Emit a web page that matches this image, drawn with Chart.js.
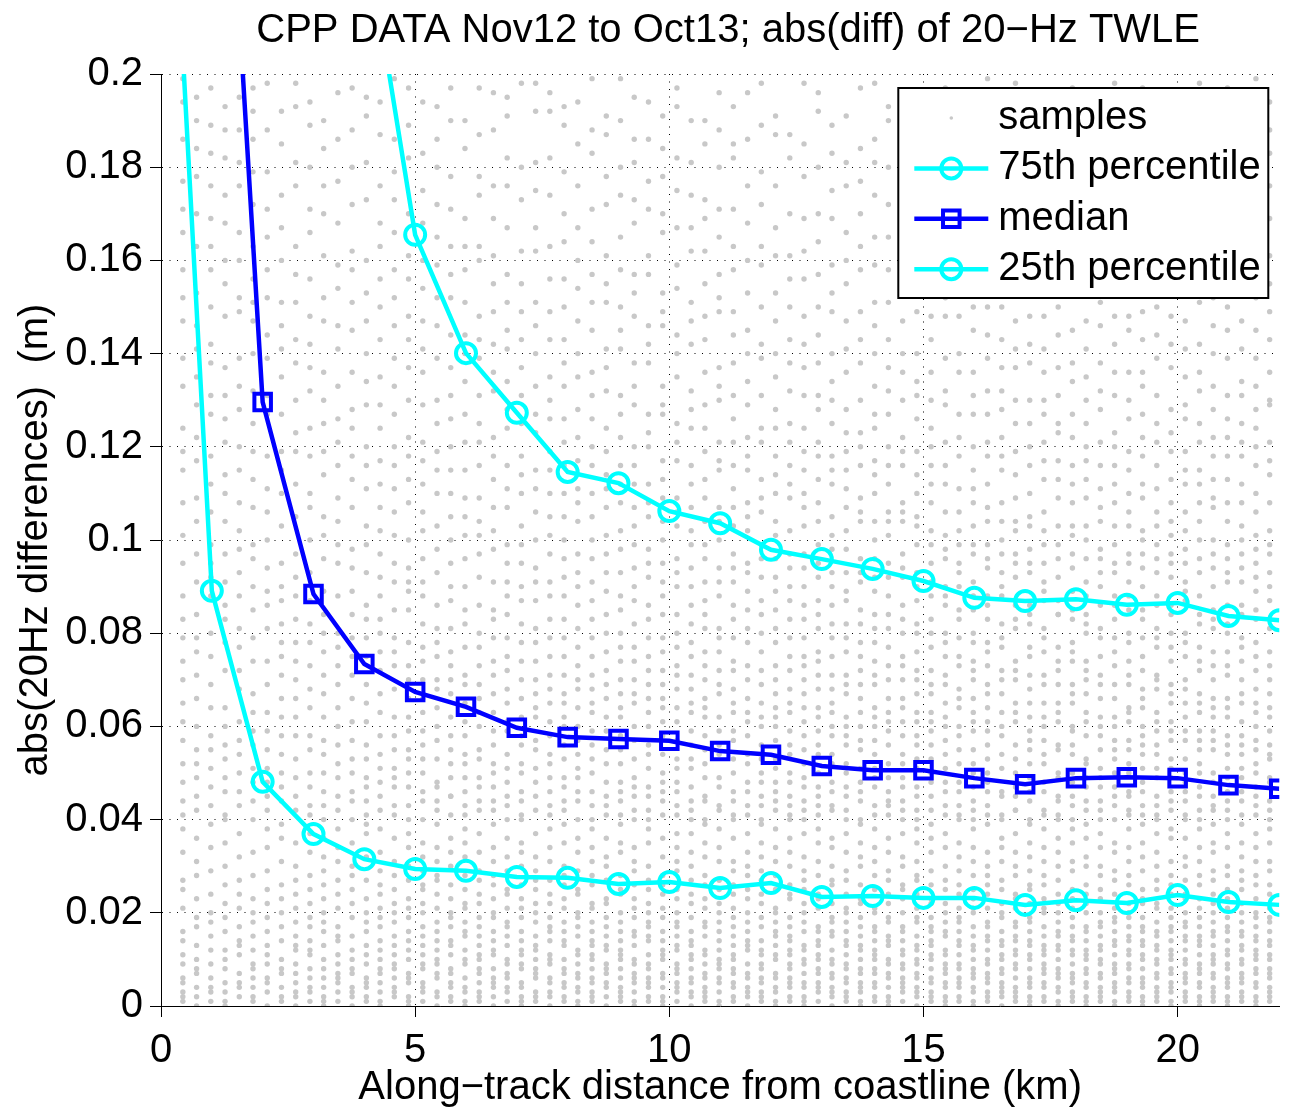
<!DOCTYPE html>
<html>
<head>
<meta charset="utf-8">
<title>CPP DATA abs(diff) of 20-Hz TWLE</title>
<script src="https://cdn.jsdelivr.net/npm/chart.js@4.4.1/dist/chart.umd.min.js"></script>
<style>
  html, body { margin: 0; padding: 0; background: #fff; }
  canvas { display: block; }
</style>
</head>
<body>
<canvas id="twleChart" width="1295" height="1117"></canvas>
<script>
const chartTitle = "CPP DATA Nov12 to Oct13; abs(diff) of 20\u2212Hz TWLE";
const xTitle = "Along\u2212track distance from coastline (km)";
const yTitle = "abs(20Hz differences)  (m)";

// distance bins (km) of the percentile curves
const distKm = [0, 1, 2, 3, 4, 5, 6, 7, 8, 9, 10, 11, 12, 13, 14, 15, 16, 17, 18, 19, 20, 21, 22];
const p75 = [1.0, 0.7, 0.45, 0.32, 0.233, 0.1655, 0.1401, 0.1273, 0.1146, 0.1122, 0.1062, 0.1036, 0.0979, 0.0959, 0.0938, 0.0912, 0.0876, 0.0869, 0.0873, 0.0861, 0.0865, 0.0837, 0.0828];
const median = [0.6, 0.31, 0.1296, 0.0884, 0.0734, 0.0674, 0.0642, 0.0597, 0.0577, 0.0573, 0.0569, 0.0547, 0.0539, 0.0515, 0.0506, 0.0506, 0.0489, 0.0476, 0.0489, 0.0491, 0.0489, 0.0474, 0.0466];
const p25 = [0.291, 0.0891, 0.0481, 0.0369, 0.0315, 0.0294, 0.0290, 0.0277, 0.0275, 0.0262, 0.0266, 0.0253, 0.0264, 0.0234, 0.0236, 0.0232, 0.0232, 0.0217, 0.0227, 0.0221, 0.0238, 0.0223, 0.0217];

// along-track positions of the 20 Hz sample columns (km)
const sampleCols = [0.43, 0.70, 0.98, 1.26, 1.54, 1.81, 2.09, 2.37, 2.65, 2.93, 3.20, 3.48, 3.76, 4.04, 4.31, 4.59, 4.87, 5.15, 5.43, 5.70,
  5.98, 6.26, 6.54, 6.81, 7.09, 7.37, 7.65, 7.93, 8.20, 8.48, 8.76, 9.04, 9.31, 9.59, 9.87, 10.15, 10.43, 10.70, 10.98, 11.26,
  11.54, 11.81, 12.09, 12.37, 12.65, 12.93, 13.20, 13.48, 13.76, 14.04, 14.31, 14.59, 14.87, 15.15, 15.43, 15.70, 15.98, 16.26, 16.54, 16.81,
  17.09, 17.37, 17.65, 17.93, 18.20, 18.48, 18.76, 19.04, 19.31, 19.59, 19.87, 20.15, 20.43, 20.70, 20.98, 21.26, 21.54, 21.81];

// sample differences (mm), one list per column
const sampleMm = [
  [1,2,3,5,6,9,11,14,16,21,25,27,33,38,44,52,61,70,83,95,108,124,139,152,171,186,194],
  [0,2,4,7,8,10,13,17,19,23,28,31,36,42,49,55,66,79,91,104,117,129,146,163,178,190],
  [1,3,4,6,9,12,15,18,20,24,29,34,39,47,58,64,75,88,99,112,131,142,158,169,183,197],
  [0,1,3,5,8,10,12,16,19,22,26,30,35,41,46,53,60,72,86,97,110,121,137,155,174,188],
  [2,4,5,7,11,13,14,17,21,24,27,32,37,43,50,57,68,77,93,102,115,133,149,160,181,195],
  [1,2,4,6,8,9,12,15,18,20,23,28,33,40,48,56,63,74,85,96,107,125,140,156,172,192],
  [0,3,5,6,9,11,13,16,19,22,25,29,34,38,45,51,59,69,81,94,111,127,144,165,179,198],
  [1,2,4,7,8,10,14,17,20,23,26,31,36,39,44,54,62,71,82,90,103,119,135,151,167,185],
  [0,2,3,5,7,9,12,13,15,18,21,24,27,30,35,42,49,58,66,78,92,105,123,138,157,176,193],
  [1,3,4,6,8,11,12,14,17,19,22,25,28,33,37,41,47,55,64,73,87,100,118,132,148,166,189],
  [0,1,2,4,6,8,10,13,16,18,20,23,26,29,32,36,43,50,57,67,76,89,101,114,130,147,170,184],
  [1,3,5,6,7,9,11,14,15,17,21,24,27,31,34,38,45,52,60,69,80,95,109,126,141,159,177,196],
  [0,2,3,4,7,8,10,12,15,19,22,25,28,30,35,40,46,53,61,71,84,98,113,128,145,162,180],
  [1,2,4,5,6,9,11,13,16,18,20,23,27,32,37,39,44,49,56,65,75,86,99,116,134,153,173,191],
  [0,1,3,5,7,8,10,12,14,17,19,21,24,26,29,33,38,42,48,54,63,72,83,97,112,129,150,168,187],
  [2,3,4,6,8,9,11,13,15,18,20,22,25,28,31,36,41,47,51,58,68,79,91,106,120,139,158,179,199],
  [0,1,2,5,6,7,10,12,14,16,19,21,23,27,30,34,37,43,50,55,62,73,85,94,108,122,143,161,182],
  [1,3,4,5,8,9,11,13,15,17,20,22,25,26,29,32,35,40,46,53,59,66,77,88,102,117,136,154,175,194],
  [0,2,3,6,7,9,10,12,14,16,18,21,24,27,28,31,34,39,44,48,57,64,70,81,93,110,125,146,165,186],
  [1,2,4,5,7,8,11,13,14,17,19,20,23,26,30,33,36,41,45,52,58,67,76,87,100,115,131,152,171,190],
  [0,1,3,4,6,9,10,12,15,16,18,21,22,25,28,32,35,38,43,49,54,61,71,82,96,109,127,144,163,184],
  [1,2,3,5,7,8,10,11,13,15,17,19,22,24,27,29,33,37,42,47,53,60,69,80,92,104,121,139,160,178,197],
  [0,2,4,5,6,8,11,12,14,16,19,20,23,26,28,31,34,39,44,50,56,63,74,85,98,113,132,149,169,188],
  [1,3,4,6,7,9,10,13,15,17,18,21,24,25,29,32,36,40,45,51,59,65,72,84,95,107,124,141,157,176,195],
  [0,1,2,4,5,8,9,11,12,14,16,19,21,23,26,30,33,35,41,46,52,58,66,78,90,103,118,137,155,173],
  [1,2,3,6,7,8,10,12,13,15,18,20,22,25,27,29,32,37,42,48,55,62,70,81,94,106,123,140,162,181,198],
  [0,2,3,5,6,9,10,11,14,16,17,19,22,24,27,31,34,38,43,49,54,61,68,79,91,105,119,135,156,174,192],
  [1,2,4,5,7,8,10,13,14,16,18,21,23,26,28,30,35,39,44,47,53,60,67,75,88,100,116,133,150,170,189],
  [0,1,3,4,6,7,9,11,12,15,17,19,20,24,25,29,33,36,40,46,51,57,64,73,86,97,111,128,147,167,185],
  [1,2,3,5,6,8,10,11,13,14,16,18,21,22,26,28,31,34,38,43,50,56,63,71,83,96,110,126,145,164,183],
  [0,2,4,5,7,8,9,12,13,15,17,19,22,23,27,30,32,36,41,45,52,59,66,76,89,101,114,132,151,172,191],
  [1,2,3,4,6,8,10,11,12,14,16,18,20,24,25,28,33,35,39,44,48,55,62,70,80,93,108,122,141,158,180,199],
  [0,1,3,5,6,7,9,10,13,15,16,19,21,23,26,29,31,34,40,45,49,57,65,74,87,99,112,129,148,168,186],
  [1,2,4,5,6,8,9,11,14,15,17,18,20,22,25,27,30,35,38,42,47,54,60,69,79,92,105,120,138,157,177,194],
  [0,1,2,4,6,7,10,11,12,14,16,19,21,24,26,28,32,36,41,46,50,58,64,72,84,95,109,127,146,166,184],
  [1,3,4,5,7,8,9,12,13,15,17,18,20,23,25,29,31,34,37,43,48,53,61,68,77,90,103,117,135,154,175,193],
  [0,2,3,5,6,8,10,11,13,14,16,19,22,24,27,30,33,37,40,44,51,56,63,71,82,94,107,124,142,162,181],
  [1,2,3,4,6,7,9,11,12,15,17,18,21,23,26,28,32,35,39,45,49,55,62,70,81,91,104,119,136,155,173,190],
  [0,1,3,5,6,8,9,10,12,14,16,18,20,22,25,27,31,34,38,42,47,54,59,67,76,88,100,115,133,152,171,188],
  [1,2,4,5,7,8,10,11,13,15,17,19,21,24,26,29,31,36,40,44,50,57,65,74,86,97,111,126,144,163,185],
  [0,2,3,4,6,7,9,12,13,14,16,18,20,23,25,28,30,33,37,41,46,52,58,66,78,89,102,118,134,153,176,196],
  [1,2,3,5,6,8,9,11,12,14,17,19,22,24,27,29,32,35,39,43,48,53,60,69,80,92,106,121,139,159,179],
  [0,1,3,4,6,7,10,11,13,15,16,18,20,21,25,28,31,34,38,42,46,51,57,64,73,85,96,110,128,147,167,187],
  [1,2,4,5,6,8,9,11,12,14,15,17,19,23,24,26,30,33,36,41,45,50,56,63,72,83,94,109,125,143,161,182],
  [0,1,2,4,5,7,9,10,12,13,16,18,20,22,25,27,29,32,37,40,44,49,55,61,70,79,90,103,119,137,156,178,198],
  [1,3,4,5,7,8,10,11,13,14,16,17,21,23,24,28,31,35,38,43,47,54,59,68,76,87,99,113,131,150,170,192],
  [0,2,3,4,6,7,9,10,12,15,16,18,19,22,26,27,30,34,36,42,46,52,58,65,75,86,98,112,130,149,169,189],
  [1,2,3,5,6,8,9,11,13,14,16,18,20,21,24,27,29,33,37,40,45,50,56,62,71,82,93,107,123,141,160,181],
  [0,1,3,4,5,7,8,10,12,13,15,17,19,22,23,26,30,32,35,39,44,48,55,60,69,78,91,104,120,138,158,177,197],
  [1,2,4,5,7,8,10,11,12,14,16,17,20,21,25,28,31,34,38,41,47,51,57,64,74,84,96,110,127,146,165,186],
  [0,1,2,4,6,7,9,10,13,14,15,18,19,22,24,27,29,33,36,43,46,52,59,66,77,88,101,116,132,151,172,193],
  [1,3,4,5,6,8,9,11,12,14,16,17,20,23,25,26,30,32,37,40,44,49,54,61,70,80,92,106,122,140,159,180],
  [0,2,3,4,6,7,9,10,12,13,15,18,19,21,24,27,28,31,35,38,42,47,53,58,67,76,87,99,114,131,149,168,188],
  [1,2,3,5,6,8,10,11,13,14,16,17,19,22,23,26,29,33,36,39,45,50,56,63,72,83,95,108,124,143,163,184],
  [0,1,2,4,5,7,8,9,11,12,15,16,18,20,22,25,27,30,34,37,41,46,51,57,65,75,86,98,112,129,148,170,191],
  [1,2,4,5,6,8,9,11,13,14,16,18,19,21,24,26,29,32,35,40,43,48,55,60,68,79,90,102,118,136,155,176,195],
  [0,1,3,4,6,7,8,10,12,13,15,17,20,21,23,25,28,31,34,38,42,47,52,59,66,74,85,97,111,127,145,166,187],
  [1,2,3,5,6,7,9,10,12,14,15,17,18,21,24,26,28,30,33,39,41,46,50,56,64,73,83,94,107,121,139,158,179,199],
  [0,2,3,4,5,7,8,10,11,13,14,16,19,20,22,25,27,31,34,36,40,45,51,58,67,77,88,100,115,132,150,171,190],
  [1,2,3,4,6,8,9,11,12,14,15,17,18,21,23,24,28,30,33,37,42,47,53,61,70,81,92,104,119,137,157,178],
  [0,1,2,4,5,6,8,10,11,13,14,16,18,19,22,25,26,29,32,35,39,44,49,55,62,71,82,93,105,120,138,156,175,194],
  [1,2,4,5,7,8,9,11,12,13,15,17,20,21,23,26,28,31,34,38,41,46,52,57,65,76,87,99,113,130,148,167,186],
  [0,1,3,4,6,7,8,10,12,13,15,16,18,20,22,24,27,30,33,36,40,45,50,56,63,72,84,96,109,125,144,164,183],
  [1,2,3,5,6,7,9,11,12,14,15,17,19,21,23,25,29,31,35,38,43,48,54,60,69,78,89,101,116,134,153,173,192],
  [0,1,2,4,5,7,8,10,11,12,14,16,17,20,22,24,26,30,32,36,39,44,49,53,61,70,80,91,103,117,135,154,174,196],
  [1,2,3,4,6,7,9,10,12,13,15,17,18,20,23,25,28,30,34,37,42,47,51,58,66,75,86,98,111,128,146,165,185],
  [0,1,3,4,5,7,8,9,11,13,14,16,18,19,21,24,27,29,33,35,40,45,50,55,62,73,83,95,108,123,142,161,181],
  [1,2,3,5,6,8,9,11,12,14,15,17,19,20,22,26,28,31,34,38,41,46,52,57,64,74,85,97,110,126,145,163,184],
  [0,1,2,4,5,6,8,10,11,13,14,16,17,19,22,23,25,29,32,35,39,43,48,54,60,68,79,90,102,118,136,155,176,197],
  [1,2,3,4,6,7,9,10,12,13,15,16,18,21,22,25,27,30,33,37,41,45,51,56,63,71,81,93,106,121,139,159,179],
  [0,1,3,4,5,7,8,10,11,12,14,16,17,19,21,24,26,28,31,36,38,44,49,53,61,69,80,92,104,119,137,157,178],
  [1,2,3,5,6,7,9,10,12,14,15,17,18,20,23,24,27,30,32,36,40,46,50,57,65,75,87,98,112,129,147,168,189],
  [0,1,2,4,5,7,8,9,11,13,14,15,17,19,21,23,26,28,31,34,38,42,47,52,59,67,77,88,100,115,132,151,171,192],
  [1,2,3,4,6,7,9,10,11,13,15,16,18,20,22,24,27,29,33,35,39,43,48,55,62,70,81,94,107,122,140,160,182],
  [0,1,2,4,5,6,8,9,11,12,14,16,17,19,21,23,25,28,30,34,37,42,46,51,58,66,76,86,99,113,131,150,169,190],
  [1,2,3,5,6,7,9,10,12,13,15,16,18,20,22,25,27,29,32,35,39,44,49,54,61,70,79,91,103,118,134,154,174,195],
  [0,1,2,4,5,7,8,10,11,12,14,15,17,19,20,23,26,28,31,34,37,41,47,52,60,68,78,89,101,116,133,152,173,193],
  [1,2,3,4,6,7,8,10,11,13,14,16,18,19,21,24,26,29,31,35,38,42,48,53,59,67,76,87,99,114,130,149,169,188]
];

// further samples (mm) of the same columns, upper part of the cloud
const sampleMmHi = [
  [41,48,57,65,74,79,88,101,115,119,133,147,158,166,177,199],
  [45,52,60,71,76,84,97,109,122,135,141,153,170,184,195],
  [43,51,55,69,80,92,95,106,118,127,138,150,163,176,189],
  [40,49,56,64,78,83,91,104,114,126,131,148,160,168,182,193],
  [46,54,61,72,81,88,98,108,120,128,139,152,166,176,188],
  [44,51,59,67,79,90,99,113,119,132,147,151,163,179,186,197],
  [42,48,55,63,74,86,89,100,106,118,131,139,152,158,171,188],
  [47,50,58,66,75,78,87,95,110,115,127,141,146,160,174,192],
  [45,53,62,70,74,83,88,97,112,119,130,143,151,163,181,198],
  [43,50,58,68,78,82,93,107,110,124,137,142,156,171,180,194],
  [40,46,54,62,71,80,84,96,105,119,125,136,152,161,176,190],
  [42,49,56,64,73,77,88,99,104,116,121,133,146,154,168,186],
  [44,50,57,66,75,79,89,94,107,118,124,136,151,158,172,188,197],
  [41,47,53,61,69,79,83,93,103,111,120,129,140,147,160,181,195],
  [45,51,58,67,76,80,88,92,102,107,117,124,135,143,156,163,176,194],
  [43,49,55,62,73,76,85,95,101,111,116,127,133,146,152,166,173,186],
  [40,47,53,59,66,70,78,89,91,100,113,118,130,137,148,156,170,189,197],
  [44,50,56,63,70,74,82,91,96,106,112,121,129,141,147,160,168,183],
  [42,47,53,60,68,75,78,86,98,103,115,119,130,139,152,159,172,180,193],
  [45,49,55,62,70,73,81,90,95,105,110,120,126,137,144,157,163,178,197],
  [41,46,52,58,65,69,77,85,90,101,105,115,121,134,140,151,158,169,190],
  [44,49,55,63,66,73,77,86,97,101,109,116,125,131,143,148,163,174,187],
  [42,47,52,59,67,71,79,83,91,102,107,118,122,136,142,155,161,176,196],
  [43,48,54,61,68,75,79,88,91,99,111,116,128,134,145,151,167,182,191],
  [40,44,50,56,62,70,74,82,87,95,99,110,114,125,131,143,149,162,180,198],
  [45,51,57,64,67,74,78,87,91,100,111,115,127,133,146,151,167,175,192],
  [41,46,52,58,65,71,75,83,88,97,101,110,115,126,130,143,149,163,182,196],
  [42,49,56,62,65,71,79,83,92,96,105,110,121,126,138,143,156,164,179,193],
  [44,49,54,60,68,70,77,81,90,93,104,108,117,122,135,140,154,160,176,194],
  [40,46,53,59,65,68,75,79,87,91,100,105,116,120,131,136,151,157,171,188,199],
  [43,48,55,62,69,72,80,84,93,97,107,111,119,124,137,141,155,161,178,187],
  [41,46,52,58,64,67,74,77,85,88,98,102,112,116,127,131,145,150,165,174,190],
  [42,47,53,60,67,70,77,82,90,94,103,107,116,120,133,138,153,157,173,181,195],
  [40,45,51,56,63,66,72,75,83,86,95,98,108,112,123,127,142,146,161,171,186],
  [44,48,54,61,66,69,76,79,88,91,100,104,113,117,129,133,149,153,170,178,191],
  [41,46,51,57,64,71,73,80,84,93,96,106,109,121,125,140,144,159,167,182,197],
  [42,47,53,59,65,68,75,78,86,90,99,102,112,116,128,132,147,151,167,174,190],
  [40,44,52,58,64,66,73,76,84,87,96,99,109,113,124,129,143,148,162,169,185],
  [43,49,56,62,69,72,79,81,91,94,104,107,117,121,130,137,149,157,165,180,196],
  [41,46,53,59,63,68,72,79,83,91,94,103,107,116,121,131,138,149,158,171,182,193],
  [43,48,54,61,63,70,73,81,85,93,95,105,108,115,122,129,140,145,160,168,186],
  [40,45,50,56,62,65,72,76,84,87,96,99,109,113,124,131,142,150,163,172,189,198],
  [44,48,53,60,62,67,70,78,81,89,92,101,104,114,118,124,135,140,153,161,176,191],
  [40,43,48,54,59,65,68,75,79,87,90,97,102,112,116,121,132,138,150,156,170,187],
  [42,47,52,58,64,67,73,75,83,86,94,97,107,110,115,124,131,142,148,162,169,185],
  [41,45,50,56,62,64,71,74,81,84,92,95,104,108,118,121,128,138,144,157,164,180,196],
  [43,48,54,60,63,68,71,79,82,90,93,101,105,115,118,125,134,140,153,159,175,183],
  [42,47,52,58,60,67,69,76,79,87,89,98,102,111,115,119,128,136,147,155,166,176,191],
  [40,46,51,57,63,66,72,75,82,85,93,96,106,109,116,123,130,143,149,163,170,184],
  [43,49,54,60,62,69,71,78,81,89,92,100,104,114,117,124,133,140,151,159,174,181,198],
  [41,44,49,56,61,63,70,73,81,84,92,95,104,106,112,120,127,137,143,158,165,180,190],
  [42,47,52,58,64,66,73,75,83,86,94,97,104,108,116,119,130,136,147,153,166,175,187,195],
  [40,45,51,56,61,63,70,72,80,82,90,93,103,105,110,119,126,134,140,154,160,175,184],
  [42,48,53,59,61,67,69,77,80,88,91,99,102,112,116,120,130,136,148,156,169,177,191],
  [43,48,54,60,62,69,71,78,80,88,90,96,101,106,116,121,132,139,152,159,174,182,197],
  [41,46,52,58,64,66,73,75,83,85,93,95,99,106,111,122,127,140,148,160,167,183,190],
  [40,44,50,55,61,63,70,72,78,80,88,91,99,103,108,115,120,131,136,150,157,171,180,194],
  [43,48,53,59,61,67,69,76,78,86,88,96,99,104,112,118,127,132,144,150,163,170,186,193],
  [41,46,54,60,63,70,72,79,82,90,93,97,104,108,118,122,128,137,143,157,164,179,186],
  [42,45,50,56,63,65,72,74,83,86,95,97,102,109,114,125,130,141,147,160,166,182,189,198],
  [40,46,52,57,59,65,68,75,77,84,86,95,98,103,110,116,125,130,142,148,160,169,184,191],
  [42,48,54,60,62,69,71,79,81,89,91,95,102,106,117,121,127,136,141,155,161,176,183],
  [41,44,49,55,61,65,69,74,77,84,87,92,99,103,113,117,123,131,137,150,157,171,178,192],
  [40,45,50,56,59,65,67,74,76,83,85,94,97,103,108,112,122,127,138,145,157,164,179,186,197],
  [42,47,52,58,63,67,72,74,82,84,88,96,100,109,113,120,125,130,141,147,160,166,182,189],
  [40,44,49,55,60,62,69,71,79,81,90,93,96,104,107,116,121,132,138,151,158,171,179,193],
  [43,47,53,57,60,66,69,76,79,86,88,93,99,103,112,116,120,131,136,148,154,168,175,189,198],
  [42,45,50,55,61,63,69,71,78,80,88,91,95,103,106,115,119,130,136,148,154,169,176,190],
  [41,46,51,56,58,64,66,72,75,83,85,94,97,100,109,112,122,127,133,143,149,162,169,183,191],
  [40,43,49,54,59,61,68,70,77,79,86,88,96,99,103,111,116,125,131,144,150,164,171,186,196],
  [42,46,51,57,59,65,67,74,77,84,86,95,97,101,108,113,123,128,142,148,162,170,185,192],
  [41,44,48,53,59,62,68,70,78,80,89,91,95,102,106,115,119,126,135,141,153,159,173,180,195],
  [40,45,50,55,57,63,65,72,74,82,84,93,96,104,108,112,121,125,136,142,155,161,176,183,198],
  [42,45,50,57,59,64,66,73,76,83,85,90,97,100,109,113,118,128,133,146,152,166,173,188],
  [40,44,49,54,56,62,64,71,73,80,82,91,93,96,104,108,118,122,126,139,145,157,164,178,185,197],
  [41,46,51,56,58,65,67,74,77,84,86,94,97,100,108,112,121,125,131,141,147,160,166,180,187],
  [43,45,50,55,57,63,65,72,75,83,85,92,95,98,106,110,120,124,128,139,145,159,165,180,188,199],
  [40,44,49,54,56,62,64,70,73,81,83,90,93,97,102,108,117,121,129,136,143,155,161,176,183,194]
];

document.addEventListener("DOMContentLoaded", function () {
  const fontFamily = "'Liberation Sans', Arial, Helvetica, sans-serif";
  Chart.defaults.font.family = fontFamily;
  Chart.defaults.font.size = 40;
  Chart.defaults.color = "#000";

  const samplePoints = [];
  sampleCols.forEach((x, i) => {
    sampleMm[i].concat(sampleMmHi[i]).forEach(mm => samplePoints.push({ x: x, y: mm / 1000 }));
  });
  const curve = vals => distKm.map((d, i) => ({ x: d, y: vals[i] }));

  // title drawn over the middle of the axes box
  const plotTitle = {
    id: "plotTitle",
    afterDraw(chart) {
      const { ctx, chartArea } = chart;
      ctx.save();
      ctx.font = "40px " + fontFamily;
      ctx.fillStyle = "#000";
      ctx.textAlign = "center";
      ctx.textBaseline = "alphabetic";
      ctx.fillText(chartTitle, (chartArea.left + chartArea.right) / 2 + 8, chartArea.top - 32);
      ctx.restore();
    }
  };

  // matlab style legend box inside the axes, top right
  const boxLegend = {
    id: "boxLegend",
    afterDatasetsDraw(chart) {
      const { ctx, chartArea } = chart;
      const w = 370, h = 210;
      const x0 = chartArea.right - 11 - w;
      const y0 = chartArea.top + 14;
      ctx.save();
      ctx.fillStyle = "#fff";
      ctx.fillRect(x0, y0, w, h);
      ctx.lineWidth = 2;
      ctx.strokeStyle = "#000";
      ctx.strokeRect(x0, y0, w, h);
      ctx.font = "40px " + fontFamily;
      ctx.textBaseline = "middle";
      chart.data.datasets.forEach((ds, i) => {
        const y = y0 + 30 + i * 50.4;
        const mx = x0 + 53;
        if (ds.showLine) {
          ctx.beginPath();
          ctx.moveTo(x0 + 16, y);
          ctx.lineTo(x0 + 90, y);
          ctx.strokeStyle = ds.borderColor;
          ctx.lineWidth = ds.borderWidth;
          ctx.stroke();
          ctx.lineWidth = ds.pointBorderWidth;
          ctx.strokeStyle = ds.pointBorderColor;
          ctx.beginPath();
          if (ds.pointStyle === "rect") {
            const s = ds.pointRadius * Math.SQRT1_2;
            ctx.rect(mx - s, y - s, 2 * s, 2 * s);
          } else {
            ctx.arc(mx, y, ds.pointRadius, 0, 2 * Math.PI);
          }
          ctx.stroke();
        } else {
          ctx.beginPath();
          ctx.arc(mx, y, 1.8, 0, 2 * Math.PI);
          ctx.fillStyle = ds.backgroundColor;
          ctx.fill();
        }
        ctx.fillStyle = "#000";
        ctx.fillText(ds.label, x0 + 100, y);
      });
      ctx.restore();
    }
  };

  const lineStyle = (color, style, radius) => ({
    showLine: true,
    borderColor: color,
    borderWidth: 4.5,
    pointStyle: style,
    pointRadius: radius,
    pointBorderColor: color,
    pointBorderWidth: 4,
    pointBackgroundColor: "rgba(0,0,0,0)",
    tension: 0
  });

  const ctx = document.getElementById("twleChart").getContext("2d");
  new Chart(ctx, {
    type: "scatter",
    data: {
      datasets: [
        {
          label: "samples",
          data: samplePoints,
          showLine: false,
          pointRadius: 2.7,
          pointBorderWidth: 0,
          backgroundColor: "#c8c8c8",
          pointBackgroundColor: "#c8c8c8",
          order: 1
        },
        Object.assign({ label: "75th percentile", data: curve(p75) }, lineStyle("#00ffff", "circle", 10)),
        Object.assign({ label: "median", data: curve(median) }, lineStyle("#0000ff", "rect", 11.7)),
        Object.assign({ label: "25th percentile", data: curve(p25) }, lineStyle("#00ffff", "circle", 10))
      ]
    },
    options: {
      responsive: false,
      animation: false,
      events: [],
      layout: { padding: { top: 74, right: 13, bottom: 0, left: 0 } },
      plugins: {
        legend: { display: false },
        tooltip: { enabled: false },
        title: { display: false }
      },
      scales: {
        x: {
          type: "linear",
          min: 0,
          max: 22,
          ticks: {
            stepSize: 5,
            includeBounds: false,
            padding: 10,
            color: "#000",
            font: { size: 40 }
          },
          grid: { color: "#000", lineWidth: 1, tickLength: 11, tickColor: "#000", tickWidth: 1, tickBorderDash: [] },
          border: { display: true, color: "#000", width: 1, dash: [1, 6.5] },
          title: { display: true, text: xTitle, color: "#000", font: { size: 40 }, padding: { top: 0, bottom: 5 } },
          afterFit(scale) { scale.height = 111; }
        },
        y: {
          type: "linear",
          min: 0,
          max: 0.2,
          ticks: {
            stepSize: 0.02,
            padding: 7,
            color: "#000",
            font: { size: 40 },
            callback: v => String(Math.round(v * 100) / 100)
          },
          grid: { color: "#000", lineWidth: 1, tickLength: 11, tickColor: "#000", tickWidth: 1, tickBorderDash: [] },
          border: { display: true, color: "#000", width: 1, dash: [1, 6.5] },
          title: { display: true, text: yTitle, color: "#000", font: { size: 40 }, padding: { top: 12, bottom: 0 } },
          afterFit(scale) { scale.width = 161; }
        }
      }
    },
    plugins: [plotTitle, boxLegend]
  });
});
</script>
</body>
</html>
